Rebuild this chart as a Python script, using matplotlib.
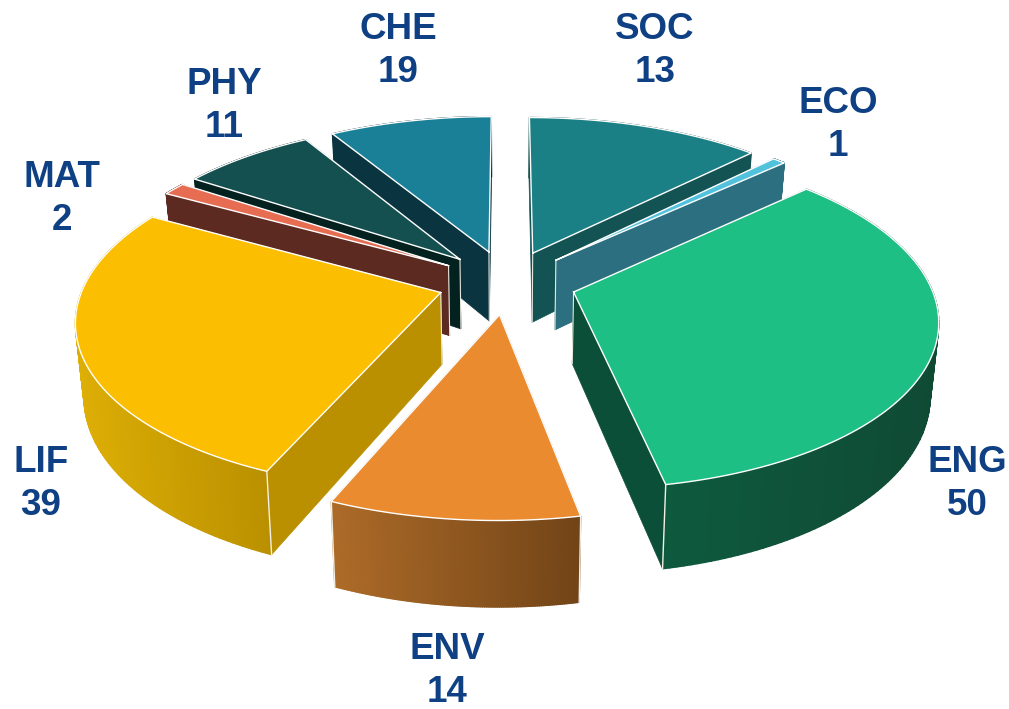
import numpy as np
import matplotlib
matplotlib.use('Agg')
import matplotlib.pyplot as plt
from matplotlib.collections import PolyCollection
from matplotlib.colors import to_rgb

# subject codes and paper counts printed on the chart
subjects = ['SOC', 'ECO', 'ENG', 'ENV', 'LIF', 'MAT', 'PHY', 'CHE']
counts = [13, 1, 50, 14, 39, 2, 11, 19]
# the angle each slice really takes in the picture, it does not follow the counts exactly
sweep_deg = [44.7, 2.5, 121.8, 34, 96, 4.5, 25.5, 31]

top_colors = ['#1B8085', '#52C1DC', '#1EBF85', '#EA8B30', '#FBBE00', '#E66C52', '#14504F', '#1A8098']
cut_colors = ['#145353', '#2B6F80', '#0C4F38', '#7A4A18', '#BA9000', '#5C2A20', '#03211F', '#0A3540']
wall_left = ['#145353', '#2B6F80', '#0E5A3E', '#AD6B28', '#DDAE05', '#5C2A20', '#03211F', '#0A3540']
wall_right = ['#145353', '#2B6F80', '#0F4A35', '#714417', '#BA9000', '#5C2A20', '#03211F', '#0A3540']
label_pos = [(655, 51), (838, 125), (967, 484), (447, 671), (41, 484), (62, 199), (224, 106), (398, 51)]

# view of the pie, all in picture pixels
cx, cy = 507, 282
a, b = 356, 164
k = 0.15
depth = 71
explode = 0.195


def project(X, Y, z):
    w = 1 + k * Y
    x = cx + a * X / w * (1 - 0.02 * z)
    y = cy - b * Y / w + depth * z / w
    return x, y


def wedge_points(start, end):
    theta = np.radians(np.linspace(start, end, 120))
    mid = np.radians((start + end) / 2)
    ox, oy = explode * np.sin(mid), explode * np.cos(mid)
    return ox, oy, ox + np.sin(theta), oy + np.cos(theta)


def draw_wedge(ax, start, end, i, zo):
    ox, oy, X, Y = wedge_points(start, end)
    ax_, ay_ = project(ox, oy, 0)
    bx_, by_ = project(ox, oy, 1)
    tx, ty = project(X, Y, 0)
    lx, ly = project(X, Y, 1)

    # the two cut faces
    for j in [0, -1]:
        quad = [(ax_, ay_), (tx[j], ty[j]), (lx[j], ly[j]), (bx_, by_)]
        ax.fill(*zip(*quad), color=cut_colors[i], lw=0.5, zorder=zo)

    # white edge down the inner corner
    ax.plot([ax_, bx_], [ay_, by_], color='#E8E8E0', lw=0.8, zorder=zo + 0.1)

    # outer wall, shaded from left to right
    left, right = np.array(to_rgb(wall_left[i])), np.array(to_rgb(wall_right[i]))
    lo, hi = tx.min(), tx.max()
    quads, cols = [], []
    for j in range(len(tx) - 1):
        quads.append([(tx[j], ty[j]), (tx[j + 1], ty[j + 1]), (lx[j + 1], ly[j + 1]), (lx[j], ly[j])])
        f = ((tx[j] + tx[j + 1]) / 2 - lo) / (hi - lo)
        cols.append(left + (right - left) * f)
    ax.add_collection(PolyCollection(quads, facecolors=cols, edgecolors=cols, linewidths=1.0, zorder=zo + 0.2))

    # white edges down the front corners
    for j in [0, -1]:
        if Y[j] < oy:
            ax.plot([tx[j], lx[j]], [ty[j], ly[j]], color='#F4F0E6', lw=1, zorder=zo + 0.3)

    # top face
    px = np.concatenate([[ax_], tx, [ax_]])
    py = np.concatenate([[ay_], ty, [ay_]])
    ax.fill(px, py, color=top_colors[i], lw=0, zorder=zo + 0.4)
    ax.plot(px, py, color='white', lw=1, zorder=zo + 0.5)


fig = plt.figure(figsize=(10.09, 7.09), dpi=100)
ax = fig.add_axes([0, 0, 1, 1])
ax.set_xlim(0, 1009)
ax.set_ylim(709, 0)
ax.axis('off')

ends = np.cumsum(sweep_deg)
starts = ends - np.array(sweep_deg)
mids = np.radians((starts + ends) / 2)

# back slices first so the front ones cover them
for zo, i in enumerate(np.argsort(-np.cos(mids))):
    draw_wedge(ax, starts[i], ends[i], i, zo + 1)

for name, n, (x, y) in zip(subjects, counts, label_pos):
    ax.text(x, y, '%s\n%d' % (name, n), ha='center', va='center', color='#0F4084',
            fontsize=26.5, fontweight='bold', family='Liberation Sans', linespacing=1.28, zorder=20)

fig.savefig('out.png', dpi=100)
plt.close('all')
